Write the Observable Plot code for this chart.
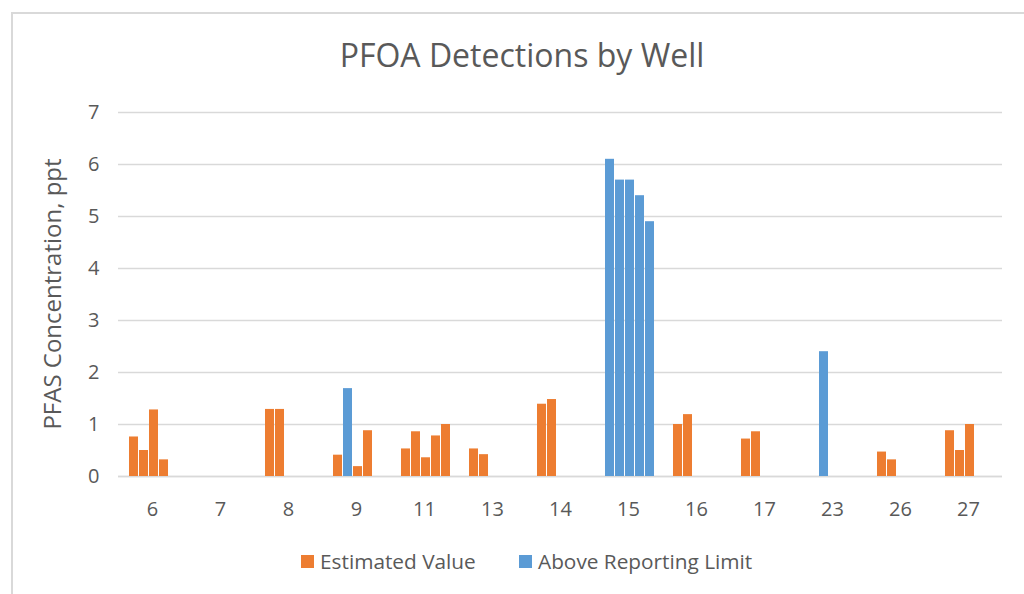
<!DOCTYPE html>
<html>
<head>
<meta charset="utf-8">
<script src="https://cdn.jsdelivr.net/npm/d3@7"></script>
<script src="https://cdn.jsdelivr.net/npm/@observablehq/plot@0.6"></script>
<style>
  html, body { margin: 0; padding: 0; background: #fff; }
  body { width: 1024px; height: 594px; overflow: hidden; position: relative; font-family: "Open Sans", sans-serif; color: #595959; }
  #frame { position: absolute; left: 11px; top: 12px; width: 1100px; height: 700px; border-left: 2px solid #D9D9D9; border-top: 2px solid #D9D9D9; }
  #title { position: absolute; left: 0; width: 1044px; top: 39px; text-align: center; font-size: 32px; line-height: 31px; white-space: nowrap; }
  #ylabel { position: absolute; left: 52px; top: 294px; transform: translate(-50%, -50%) rotate(-90deg); font-size: 24px; line-height: 24px; white-space: nowrap; }
  #chart { position: absolute; left: 0; top: 90px; }
  .leg { position: absolute; top: 548px; display: flex; align-items: center; font-size: 20.8px; line-height: 26px; white-space: nowrap; }
  .sw { width: 13px; height: 13px; margin-right: 6px; }
</style>
</head>
<body>
<div id="frame"></div>
<div id="title"></div>
<div id="ylabel"></div>
<div id="chart"></div>
<div id="legend"></div>
<script>
const chartTitle = "PFOA Detections by Well";
const yTitle = "PFAS Concentration, ppt";
const wells = ["6","7","8","9","11","13","14","15","16","17","23","26","27"];
const yTicks = [0,1,2,3,4,5,6,7];
const seriesNames = ["Estimated Value", "Above Reporting Limit"];
const seriesColors = ["#ED7D31", "#5B9BD5"];

const barWell = ["6","6","6","6","8","8","9","9","9","9","11","11","11","11","11","13","13","14","14","15","15","15","15","15","16","16","17","17","23","26","26","27","27","27"];
const barSlot = [0,1,2,3, 0,1, 0,1,2,3, 0,1,2,3,4, 0,1, 0,1, 0,1,2,3,4, 0,1, 0,1, 1, 0,1, 0,1,2];
const barValue = [0.76,0.5,1.28,0.32, 1.29,1.29, 0.41,1.69,0.19,0.88, 0.53,0.86,0.36,0.78,1.0, 0.53,0.42, 1.39,1.48, 6.1,5.7,5.7,5.4,4.9, 1.0,1.19, 0.72,0.86, 2.4, 0.47,0.32, 0.88,0.5,1.0];
const barStatus = [0,0,0,0, 0,0, 0,1,0,0, 0,0,0,0,0, 0,0, 0,0, 1,1,1,1,1, 0,0, 0,0, 1, 0,0, 0,0,0];

const data = barWell.map((w, i) => ({
  well: w, slot: barSlot[i], value: barValue[i], status: seriesNames[barStatus[i]]
}));

document.getElementById("title").textContent = chartTitle;
document.getElementById("ylabel").textContent = yTitle;

const chart = Plot.plot({
  width: 1024,
  height: 446,
  marginLeft: 118,
  marginRight: 22,
  marginTop: 22,
  marginBottom: 60,
  style: { fontFamily: "Open Sans", color: "#595959", background: "transparent" },
  fx: { domain: wells, padding: 0, label: null },
  x: { domain: [0,1,2,3,4], paddingInner: 0.12, paddingOuter: 0.89, align: 0.55, axis: null },
  y: { domain: [0, 7], label: null },
  color: { domain: seriesNames, range: seriesColors },
  marks: [
    Plot.gridY(yTicks, { stroke: "#D9D9D9", strokeOpacity: 1, strokeWidth: 1.3 }),
    Plot.ruleY(wells, { fx: d => d, y: 0, stroke: "#D9D9D9", strokeWidth: 1.3 }),
    Plot.axisY(yTicks, { tickSize: 0, tickPadding: 19, fontSize: 20, fill: "#595959", label: null, tickFormat: d => String(d) }),
    Plot.axisFx({ anchor: "bottom", tickSize: 0, tickPadding: 25, fontSize: 20, fill: "#595959", label: null }),
    Plot.barY(data, { fx: "well", x: "slot", y: "value", fill: "status" })
  ]
});
document.getElementById("chart").appendChild(chart);

const legend = document.getElementById("legend");
const legLeft = [301, 519];
seriesNames.forEach((name, i) => {
  const item = document.createElement("div");
  item.className = "leg";
  item.style.left = legLeft[i] + "px";
  const sw = document.createElement("div");
  sw.className = "sw";
  sw.style.background = seriesColors[i];
  const tx = document.createElement("span");
  tx.textContent = name;
  item.appendChild(sw);
  item.appendChild(tx);
  legend.appendChild(item);
});
</script>
</body>
</html>
